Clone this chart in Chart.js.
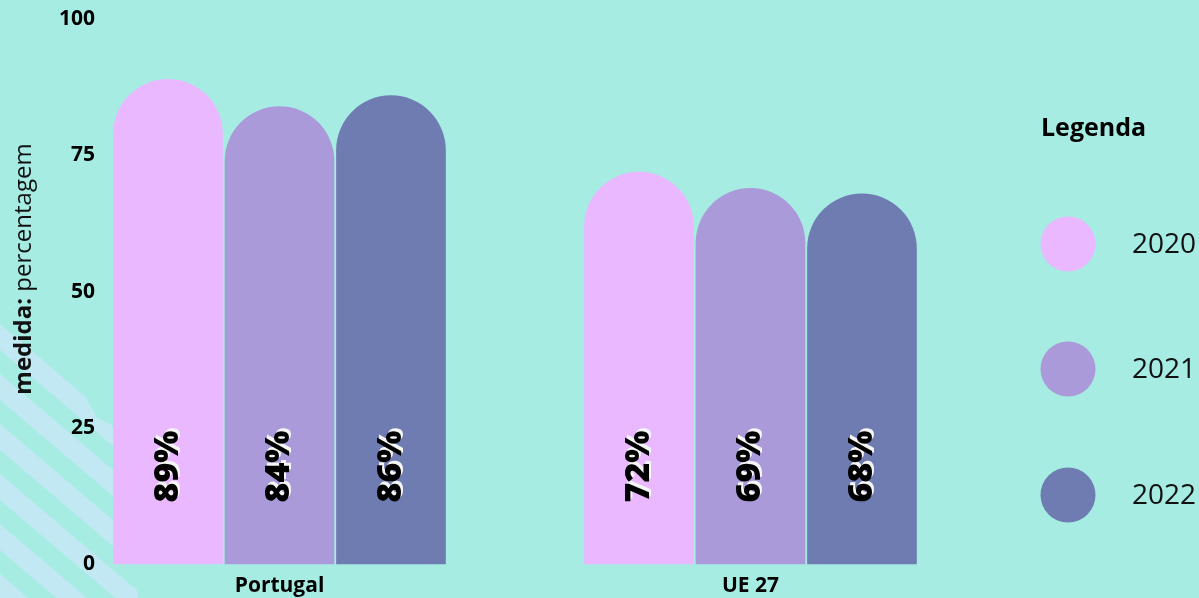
<!DOCTYPE html>
<html>
<head>
<meta charset="utf-8">
<script src="https://cdn.jsdelivr.net/npm/chart.js@4.4.0/dist/chart.umd.min.js"></script>
<style>
  html, body { margin: 0; padding: 0; background: #a6ece3; }
  #wrap { width: 1199px; height: 598px; position: relative; }
</style>
</head>
<body>
<div id="wrap"><canvas id="c" width="1199" height="598"></canvas></div>
<script>
// ---- data ----
const categories = ['Portugal', 'UE 27'];
const seriesLabels = ['2020', '2021', '2022'];
const values2020 = [89, 72];
const values2021 = [84, 69];
const values2022 = [86, 68];
const yTickValues = [0, 25, 50, 75, 100];
const yTitleBold = 'medida:';
const yTitleRegular = 'percentagem';
const legendTitle = 'Legenda';

// ---- styles ----
const BG = '#a6ece3';
const STRIPE = '#c2e9f3';
const barColors = ['#e9b8fe', '#ab9ad9', '#6f7cb2'];
const FONT = '"Open Sans", "Noto Sans", sans-serif';

const bgPlugin = {
  id: 'bg',
  beforeDraw(chart) {
    const ctx = chart.ctx;
    ctx.save();
    ctx.fillStyle = BG;
    ctx.fillRect(0, 0, chart.width, chart.height);
    // decorative striped shape bottom-left
    ctx.beginPath();
    ctx.moveTo(0, 300);
    ctx.quadraticCurveTo(60, 345, 97, 418);
    ctx.lineTo(112, 425);
    ctx.lineTo(134, 560);
    ctx.lineTo(138, 598);
    ctx.lineTo(0, 598);
    ctx.closePath();
    ctx.clip();
    ctx.fillStyle = STRIPE;
    ctx.fillRect(0, 280, 160, 330);
    ctx.fillStyle = BG;
    const slope = 0.85, period = 50, w = 24;
    for (let y0 = 200; y0 < 700; y0 += period) {
      ctx.beginPath();
      ctx.moveTo(0, y0);
      ctx.lineTo(200, y0 + 200 * slope);
      ctx.lineTo(200, y0 + 200 * slope + w);
      ctx.lineTo(0, y0 + w);
      ctx.closePath();
      ctx.fill();
    }
    ctx.restore();
  }
};

const labelsPlugin = {
  id: 'valueLabels',
  afterDatasetsDraw(chart) {
    const ctx = chart.ctx;
    const yScale = chart.scales.y;
    const yBase = yScale.getPixelForValue(0) - 98;
    chart.data.datasets.forEach((ds, di) => {
      const meta = chart.getDatasetMeta(di);
      meta.data.forEach((el, i) => {
        ctx.save();
        ctx.translate(el.x, yBase);
        ctx.rotate(-Math.PI / 2);
        ctx.font = '800 34px ' + FONT;
        ctx.textAlign = 'center';
        ctx.textBaseline = 'middle';
        ctx.shadowColor = 'rgba(245,245,245,1)';
        ctx.shadowOffsetX = 2;
        ctx.shadowOffsetY = -3;
        ctx.shadowBlur = 0;
        ctx.fillStyle = '#000';
        ctx.fillText(ds.data[i] + '%', 0, 0);
        ctx.restore();
      });
    });
  }
};

const extrasPlugin = {
  id: 'extras',
  afterDraw(chart) {
    const ctx = chart.ctx;
    // y axis title
    ctx.save();
    ctx.translate(31, 269);
    ctx.rotate(-Math.PI / 2);
    ctx.textBaseline = 'alphabetic';
    ctx.fillStyle = '#111';
    const fs = 24;
    ctx.font = 'bold ' + fs + 'px ' + FONT;
    const wb = ctx.measureText(yTitleBold + ' ').width;
    ctx.font = fs + 'px ' + FONT;
    const wr = ctx.measureText(yTitleRegular).width;
    const start = -(wb + wr) / 2;
    ctx.font = 'bold ' + fs + 'px ' + FONT;
    ctx.textAlign = 'left';
    ctx.fillText(yTitleBold + ' ', start, 0);
    ctx.font = fs + 'px ' + FONT;
    ctx.fillText(yTitleRegular, start + wb, 0);
    ctx.restore();

    // legend
    ctx.save();
    ctx.fillStyle = '#000';
    ctx.font = 'bold 25px ' + FONT;
    ctx.textAlign = 'left';
    ctx.textBaseline = 'alphabetic';
    ctx.fillText(legendTitle, 1041, 136);
    const ys = [244, 369, 495];
    chart.data.datasets.forEach((ds, i) => {
      ctx.beginPath();
      ctx.fillStyle = ds.backgroundColor;
      ctx.arc(1068, ys[i], 27.5, 0, Math.PI * 2);
      ctx.fill();
      ctx.fillStyle = '#111';
      ctx.font = '400 28px ' + FONT;
      ctx.textBaseline = 'middle';
      ctx.fillText(ds.label, 1132, ys[i] + 1);
    });
    ctx.restore();
  }
};

const datasetValues = [values2020, values2021, values2022];
const datasets = seriesLabels.map((lab, i) => ({
  label: lab,
  data: datasetValues[i],
  backgroundColor: barColors[i],
  borderWidth: 0,
  borderRadius: { topLeft: 60, topRight: 60, bottomLeft: 0, bottomRight: 0 },
  borderSkipped: 'start',
  barPercentage: 0.984,
  categoryPercentage: 0.71
}));

new Chart(document.getElementById('c'), {
  type: 'bar',
  data: { labels: categories, datasets },
  plugins: [bgPlugin, labelsPlugin, extrasPlugin],
  options: {
    responsive: false,
    animation: false,
    devicePixelRatio: 1,
    layout: { padding: { top: 19, right: 213, bottom: 0, left: 0 } },
    plugins: { legend: { display: false }, tooltip: { enabled: false } },
    scales: {
      x: {
        offset: true,
        grid: { display: false, drawTicks: false },
        border: { display: false },
        ticks: { color: '#000', padding: 9, font: { family: FONT, size: 21, weight: 'bold' } },
        afterFit(s) { s.height = 33.5; s.paddingLeft = 0; s.paddingRight = 0; }
      },
      y: {
        min: 0, max: 100,
        afterBuildTicks(s) { s.ticks = yTickValues.map(v => ({ value: v })); },
        grid: { display: false, drawTicks: false },
        border: { display: false },
        ticks: {
          mirror: true, crossAlign: 'far', padding: 15,
          color: '#000', font: { family: FONT, size: 21, weight: 'bold' }
        },
        afterFit(s) { s.width = 44; s.paddingTop = 0; s.paddingBottom = 0; }
      }
    }
  }
});
</script>
</body>
</html>
